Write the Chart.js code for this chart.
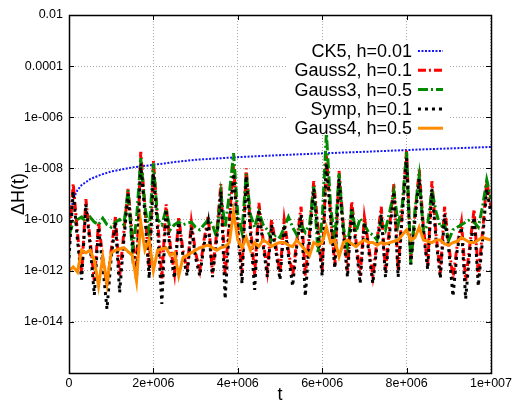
<!DOCTYPE html>
<html>
<head>
<meta charset="utf-8">
<script src="https://cdn.jsdelivr.net/npm/chart.js@4.4.1/dist/chart.umd.min.js"></script>
<style>
  html, body { margin: 0; padding: 0; background: #fff; }
  #wrap { width: 515px; height: 401px; }
</style>
</head>
<body>
<div id="wrap"><canvas id="chart" width="515" height="401"></canvas></div>
<script>
/* ── Data (values are log10 of ΔH) ──────────────────────────── */
const seriesNames = ['CK5, h=0.01', 'Gauss2, h=0.1', 'Gauss3, h=0.5', 'Symp, h=0.1', 'Gauss4, h=0.5'];

const xTickValues = [0, 2e6, 4e6, 6e6, 8e6, 1e7];
const xTickLabels = ['0', '2e+006', '4e+006', '6e+006', '8e+006', '1e+007'];
const yTickValues = [1e-14, 1e-12, 1e-10, 1e-8, 1e-6, 1e-4, 1e-2];
const yTickLabels = ['1e-014', '1e-012', '1e-010', '1e-008', '1e-006', '0.0001', '0.01'];

/* CK5 is a smooth curve, sampled at its own times */
const ck5Times = [0, 1e5, 2e5, 3e5, 5e5, 7.5e5, 1e6, 1.5e6, 2e6, 2.5e6, 3e6, 3.5e6, 4e6, 5e6, 6e6, 7e6, 8e6, 9e6, 1e7];
const ck5Exp   = [-10.1, -9.2, -8.85, -8.65, -8.42, -8.25, -8.12, -7.96, -7.86, -7.75, -7.66, -7.61, -7.56, -7.48, -7.41, -7.35, -7.28, -7.22, -7.16];

/* the other runs are output every 1e5 time units */
const tStep = 1e5;

const gauss2Exp = [
  -11.0, -8.6, -10.5, -12.1, -9.2, -10.8, -12.4, -10.1, -11.5, -12.6,
  -11.2, -9.9, -12.2, -10.5, -8.8, -10.6, -12.1, -7.35, -9.5, -12.0,
  -7.7, -10.0, -12.3, -9.4, -11.0, -12.1, -9.9, -11.2, -12.0, -10.1,
  -11.3, -12.0, -10.8, -9.85, -12.1, -10.5, -8.6, -12.2, -10.0, -7.9,
  -10.2, -12.1, -8.0, -10.2, -12.2, -9.35, -10.8, -12.0, -10.0, -11.0,
  -12.1, -10.0, -11.2, -12.2, -10.8, -9.5, -12.2, -10.5, -8.5, -10.3,
  -12.0, -7.5, -9.8, -11.8, -8.1, -10.2, -12.0, -9.3, -10.8, -12.2,
  -9.9, -11.0, -12.2, -10.8, -9.5, -12.0, -10.2, -8.6, -12.0, -9.5,
  -7.3, -11.6, -9.8, -8.05, -10.3, -11.8, -8.5, -10.6, -12.1, -9.5,
  -11.0, -12.3, -11.0, -10.1, -12.4, -11.0, -9.6, -12.2, -10.5, -8.5,
  -9.5
];

const gauss3Exp = [
  -10.6, -10.1, -10.0, -9.9, -10.1, -9.9, -10.1, -10.2, -9.95, -10.2,
  -10.3, -10.1, -10.0, -10.2, -8.85, -11.2, -10.0, -7.6, -9.5, -10.5,
  -7.8, -10.0, -10.2, -9.6, -10.4, -10.2, -10.1, -10.2, -10.15, -10.1,
  -10.3, -10.4, -10.2, -10.0, -10.2, -10.7, -9.0, -10.3, -9.0, -7.4,
  -9.8, -10.5, -8.2, -9.8, -10.3, -9.7, -10.2, -10.4, -10.8, -10.6,
  -10.7, -10.3, -9.9, -10.3, -10.6, -10.2, -10.5, -10.2, -8.7, -11.3,
  -10.0, -6.6, -9.5, -10.8, -8.2, -10.3, -11.1, -9.6, -10.5, -9.95,
  -10.2, -10.5, -10.6, -10.8, -10.0, -10.4, -9.7, -8.9, -10.2, -9.4,
  -7.35, -11.75, -9.6, -8.3, -10.5, -10.2, -8.85, -9.7, -10.3, -10.2,
  -10.8, -10.4, -10.3, -10.2, -10.1, -10.0, -10.1, -10.3, -9.5, -8.45,
  -9.2
];

const sympExp = [
  -11.5, -8.9, -10.8, -12.35, -9.4, -11.0, -12.95, -10.3, -11.8, -13.5,
  -11.5, -10.1, -12.85, -10.8, -9.0, -10.9, -12.35, -7.8, -9.8, -12.3,
  -8.2, -10.4, -13.3, -9.6, -11.3, -12.3, -10.1, -11.4, -12.2, -10.3,
  -11.5, -12.2, -11.0, -10.1, -12.25, -10.8, -8.9, -13.1, -10.3, -8.2,
  -10.4, -12.5, -8.3, -10.5, -12.75, -9.6, -11.0, -12.25, -10.2, -11.2,
  -12.35, -10.2, -11.4, -12.6, -11.0, -9.8, -13.0, -10.8, -8.8, -10.6,
  -12.2, -7.8, -10.0, -11.9, -8.4, -10.5, -12.25, -9.6, -11.0, -12.5,
  -10.1, -11.2, -12.5, -11.0, -9.8, -12.25, -10.5, -8.9, -12.25, -9.8,
  -7.6, -11.75, -10.0, -8.4, -10.5, -11.95, -8.8, -10.8, -12.3, -9.8,
  -11.2, -13.0, -11.2, -10.3, -13.1, -11.2, -9.9, -12.6, -10.8, -8.8,
  -9.8
];

const gauss4Exp = [
  -12.0, -11.85, -12.05, -11.2, -11.3, -11.2, -11.6, -12.6, -11.45, -12.5,
  -11.3, -11.2, -11.15, -11.1, -11.25, -11.4, -12.4, -10.1, -11.2, -10.8,
  -12.0, -11.2, -11.15, -11.1, -11.4, -11.3, -12.2, -11.5, -11.4, -11.3,
  -11.2, -11.1, -11.05, -11.0, -11.1, -11.2, -11.1, -11.06, -10.9, -9.7,
  -10.8, -11.1, -10.7, -11.2, -10.9, -11.05, -10.8, -10.9, -11.05, -10.95,
  -10.9, -10.9, -11.0, -11.06, -10.8, -11.0, -11.2, -11.4, -10.9, -11.0,
  -10.9, -10.3, -10.9, -10.8, -11.45, -10.9, -10.8, -10.95, -11.06, -10.9,
  -10.8, -10.9, -10.9, -11.0, -10.9, -10.95, -10.9, -10.85, -10.8, -10.6,
  -10.4, -10.8, -10.7, -10.3, -10.8, -10.85, -10.9, -10.8, -10.8, -10.95,
  -11.0, -10.9, -10.85, -10.7, -10.8, -10.9, -10.9, -10.8, -10.7, -10.75,
  -10.8
];

/* ── Helpers ─────────────────────────────────────── */
const FONT = "'Liberation Sans', Arial, sans-serif";
const runTimes = gauss2Exp.map((_, i) => i * tStep);
const toPoints = (ts, exps) => exps.map((e, i) => ({ x: ts[i], y: Math.pow(10, e) }));

/* ── Plot frame: border + inward tics (gnuplot look) ── */
const frame = {
  id: 'frame',
  afterDatasetsDraw(chart) {
    const { ctx, chartArea: a, scales } = chart;
    ctx.save();

    /* key with opaque background */
    const keyRight = a.right - 79;
    ctx.fillStyle = '#fff';
    ctx.fillRect(keyRight - 125, a.top + 25, 161, 95);
    ctx.font = '18px ' + FONT;
    ctx.textAlign = 'right';
    ctx.textBaseline = 'middle';
    chart.data.datasets.forEach((ds, i) => {
      const y = a.top + 36 + i * 19.3;
      ctx.fillStyle = '#000';
      ctx.fillText(seriesNames[i], keyRight, y + 1);
      ctx.strokeStyle = ds.borderColor;
      ctx.lineWidth = ds.borderWidth;
      ctx.setLineDash(ds.borderDash || []);
      ctx.beginPath();
      ctx.moveTo(keyRight + 6, y);
      ctx.lineTo(keyRight + 31, y);
      ctx.stroke();
    });
    ctx.setLineDash([]);

    /* tics */
    ctx.strokeStyle = '#000';
    ctx.lineWidth = 1;
    ctx.beginPath();
    yTickValues.forEach(v => {
      const y = Math.round(scales.y.getPixelForValue(v)) + 0.5;
      ctx.moveTo(a.left, y); ctx.lineTo(a.left + 5, y);
      ctx.moveTo(a.right, y); ctx.lineTo(a.right - 5, y);
    });
    xTickValues.forEach(v => {
      const x = Math.round(scales.x.getPixelForValue(v)) + 0.5;
      ctx.moveTo(x, a.bottom); ctx.lineTo(x, a.bottom - 5);
      ctx.moveTo(x, a.top); ctx.lineTo(x, a.top + 5);
    });
    ctx.stroke();

    /* border */
    ctx.lineWidth = 1.5;
    ctx.strokeRect(Math.round(a.left) + 0.5, Math.round(a.top) + 0.5,
                   Math.round(a.right - a.left), Math.round(a.bottom - a.top));
    ctx.restore();
  }
};

/* ── Chart ───────────────────────────────────────── */
new Chart(document.getElementById('chart'), {
  type: 'line',
  data: {
    datasets: [
      { label: seriesNames[0], data: toPoints(ck5Times, ck5Exp), order: 5,
        borderColor: '#1414ff', borderWidth: 2, borderDash: [2, 1.5] },
      { label: seriesNames[1], data: toPoints(runTimes, gauss2Exp), order: 4,
        borderColor: '#ff0000', borderWidth: 3, borderDash: [8, 3, 2, 3] },
      { label: seriesNames[2], data: toPoints(runTimes, gauss3Exp), order: 3,
        borderColor: '#008a00', borderWidth: 3, borderDash: [10, 3, 2, 3] },
      { label: seriesNames[3], data: toPoints(runTimes, sympExp), order: 2,
        borderColor: '#000000', borderWidth: 3, borderDash: [3, 4] },
      { label: seriesNames[4], data: toPoints(runTimes, gauss4Exp), order: 1,
        borderColor: '#ff8c00', borderWidth: 3 }
    ]
  },
  options: {
    responsive: false,
    animation: false,
    parsing: false,
    elements: { point: { radius: 0 }, line: { tension: 0, fill: false } },
    layout: { padding: { top: 15, right: 23, left: 0, bottom: 0 } },
    plugins: { legend: { display: false }, tooltip: { enabled: false } },
    scales: {
      x: {
        type: 'linear', min: 0, max: 1e7,
        afterBuildTicks: s => { s.ticks = xTickValues.map(value => ({ value })); },
        afterFit: s => { s.height = 28; },
        ticks: {
          autoSkip: false, maxRotation: 0, padding: 3, color: '#000',
          font: { family: FONT, size: 12.5 },
          callback: (v, i) => xTickLabels[i]
        },
        grid: { color: '#a8a8a8', lineWidth: 1, drawTicks: false },
        border: { display: false, dash: [1, 2] },
        title: { display: true, text: 't', color: '#000',
                 font: { family: FONT, size: 18, lineHeight: '12px' }, padding: 0 }
      },
      y: {
        type: 'logarithmic', min: 1e-16, max: 1e-2,
        afterBuildTicks: s => { s.ticks = yTickValues.map(value => ({ value })); },
        afterFit: s => { s.width = 69; },
        ticks: {
          autoSkip: false, padding: 6, color: '#000',
          font: { family: FONT, size: 12.5 },
          callback: (v, i) => yTickLabels[i]
        },
        grid: { color: '#a8a8a8', lineWidth: 1, drawTicks: false },
        border: { display: false, dash: [1, 2] },
        title: { display: true, text: 'ΔH(t)', color: '#000',
                 font: { family: FONT, size: 18 }, padding: { top: 8, bottom: 0 } }
      }
    }
  },
  plugins: [frame]
});
</script>
</body>
</html>
